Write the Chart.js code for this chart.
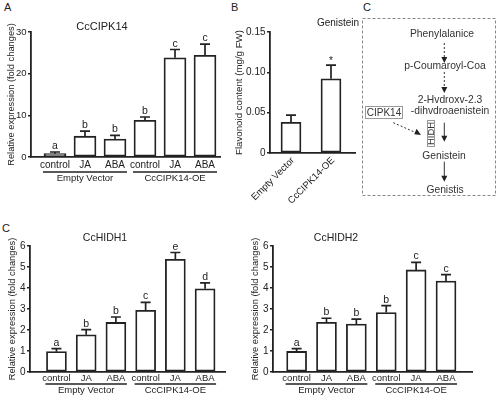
<!DOCTYPE html>
<html><head><meta charset="utf-8">
<script src="https://cdn.jsdelivr.net/npm/chart.js@4.4.0/dist/chart.umd.min.js"></script>
<style>
html,body{margin:0;padding:0;background:#fff;}
#wrap{position:relative;width:500px;height:397px;overflow:hidden;font-family:"Liberation Sans",Arial,sans-serif;color:#222;}
#wrap canvas{position:absolute;}
.pl{position:absolute;font-size:11px;color:#222;line-height:1;}
</style></head><body>
<div id="wrap">
<div class="pl" style="left:4px;top:2px">A</div>
<div class="pl" style="left:231px;top:2px">B</div>
<div class="pl" style="left:363px;top:2px">C</div>
<div class="pl" style="left:2px;top:223px">C</div>
<canvas id="cA" width="224" height="188" style="left:0;top:0"></canvas>
<canvas id="cB" width="132" height="210" style="left:228px;top:0"></canvas>
<canvas id="cC1" width="230" height="182" style="left:0;top:215px"></canvas>
<canvas id="cC2" width="255" height="182" style="left:245px;top:215px"></canvas>
<svg width="145" height="200" viewBox="355 0 145 200" style="position:absolute;left:355px;top:0" font-family="Liberation Sans, Arial, sans-serif">
  <rect x="362.5" y="18.5" width="133" height="177" fill="none" stroke="#888" stroke-width="1" stroke-dasharray="3 2"/>
  <g fill="#333" font-size="10.3" text-anchor="middle">
    <text x="442" y="37">Phenylalanice</text>
    <text x="445" y="69">p-Coumaroyl-Coa</text>
    <text x="450" y="102.5">2-Hvdroxv-2.3</text>
    <text x="450" y="114">-dihvdroaenistein</text>
    <text x="444" y="159">Genistein</text>
    <text x="445" y="193">Genistis</text>
  </g>
  <rect x="365.5" y="106.5" width="37" height="12" fill="#fff" stroke="#999" stroke-width="1"/>
  <text x="384" y="116" font-size="10" fill="#333" text-anchor="middle">CIPK14</text>
  <rect x="427.5" y="120.5" width="7" height="26" fill="#fff" stroke="#999" stroke-width="1"/>
  <text transform="translate(431,133.5) rotate(-90)" font-size="8.5" fill="#333" text-anchor="middle" dominant-baseline="central" textLength="23" lengthAdjust="spacingAndGlyphs">HIDH</text>
  <g stroke="#333" stroke-width="1" fill="none">
    <line x1="444.3" y1="43" x2="444.3" y2="57" stroke-dasharray="2 2"/>
    <line x1="444.3" y1="72" x2="444.3" y2="87" stroke-dasharray="2 2"/>
    <line x1="393.3" y1="122.7" x2="415.5" y2="132.5" stroke-dasharray="2 2"/>
    <line x1="444.3" y1="122.7" x2="444.3" y2="136"/>
    <line x1="444.3" y1="161.7" x2="444.3" y2="176"/>
  </g>
  <g fill="#222">
    <polygon points="441.3,57 447.3,57 444.3,63"/>
    <polygon points="441.3,87 447.3,87 444.3,93"/>
    <polygon points="421,135 414.2,134.3 416.6,128.8"/>
    <polygon points="441.3,135.7 447.3,135.7 444.3,141.7"/>
    <polygon points="441.3,175.7 447.3,175.7 444.3,181.7"/>
  </g>
</svg>
</div>
<script>
// ---------- data ----------
const treatments = ['control', 'JA', 'ABA', 'control', 'JA', 'ABA'];
const groupNames = ['Empty Vector', 'CcCIPK14-OE'];
const groupMembers = [[0, 2], [3, 5]];

const cipk14Mean = [0.8, 5.0, 4.3, 8.8, 23.8, 24.4];
const cipk14Sd   = [0.4, 1.2, 0.9, 0.8, 2.0, 2.7];
const cipk14Sig  = ['a', 'b', 'b', 'b', 'c', 'c'];
const cipk14Ticks = [0, 10, 20, 30];

const lines      = ['Empty Vector', 'CcCIPK14-OE'];
const genMean    = [0.038, 0.092];
const genSd      = [0.009, 0.017];
const genSig     = ['', '*'];
const genTicks   = [0, 0.05, 0.10, 0.15];

const hidh1Mean  = [0.97, 1.77, 2.36, 2.94, 5.37, 3.96];
const hidh1Sd    = [0.14, 0.25, 0.26, 0.38, 0.32, 0.28];
const hidh1Sig   = ['a', 'b', 'b', 'c', 'e', 'd'];

const hidh2Mean  = [0.98, 2.37, 2.28, 2.83, 4.86, 4.33];
const hidh2Sd    = [0.13, 0.19, 0.24, 0.33, 0.36, 0.31];
const hidh2Sig   = ['a', 'b', 'b', 'b', 'c', 'c'];
const hidhTicks  = [0, 1, 2, 3, 4, 5, 6];

// ---------- rendering ----------
Chart.defaults.font.family = '"Liberation Sans", Arial, sans-serif';
Chart.defaults.color = '#222';

const annot = {
  id: 'annot',
  afterDatasetsDraw(chart, args, o) {
    const ctx = chart.ctx, ys = chart.scales.y, meta = chart.getDatasetMeta(0);
    ctx.save();
    ctx.strokeStyle = '#222'; ctx.fillStyle = '#222'; ctx.lineWidth = 1.7;
    meta.data.forEach((el, i) => {
      const x = el.x, yt = el.y, ye = ys.getPixelForValue(o.mean[i] + o.sd[i]);
      ctx.beginPath();
      ctx.moveTo(x, yt); ctx.lineTo(x, ye);
      ctx.moveTo(x - o.cap, ye); ctx.lineTo(x + o.cap, ye);
      ctx.stroke();
      if (o.sig[i]) {
        ctx.font = o.sigFont + 'px "Liberation Sans", Arial';
        ctx.textAlign = 'center'; ctx.textBaseline = 'alphabetic';
        ctx.fillText(o.sig[i], x, ye - o.sigGap);
      }
    });
    ctx.restore();
  },
  afterDraw(chart, args, o) {
    const ctx = chart.ctx, xs = chart.scales.x, area = chart.chartArea;
    ctx.save();
    ctx.fillStyle = '#222';
    ctx.font = o.titleFont + 'px "Liberation Sans", Arial';
    ctx.textAlign = 'center'; ctx.textBaseline = 'middle';
    ctx.fillText(o.title, o.titleX, o.titleY);
    if (o.groups) {
      const half = o.barW / 2 + 1;
      ctx.strokeStyle = '#222'; ctx.lineWidth = 1.3;
      ctx.font = o.groupFont + 'px "Liberation Sans", Arial';
      o.groups.forEach((g, k) => {
        const x1 = xs.getPixelForValue(o.members[k][0]) - half;
        const x2 = xs.getPixelForValue(o.members[k][1]) + half;
        const y = area.bottom + o.lineDy;
        ctx.beginPath(); ctx.moveTo(x1, y); ctx.lineTo(x2, y); ctx.stroke();
        ctx.fillText(g, (x1 + x2) / 2, area.bottom + o.nameDy);
      });
    }
    ctx.restore();
  }
};

function makeChart(id, c) {
  const cv = document.getElementById(id);
  const W = cv.width, H = cv.height;
  return new Chart(cv, {
    type: 'bar',
    data: {
      datasets: [{
        data: c.mean.map((v, i) => ({ x: i, y: v })),
        backgroundColor: '#ffffff',
        borderColor: '#222',
        borderWidth: 1.8,
        borderSkipped: false,
        barThickness: c.barW
      }]
    },
    options: {
      responsive: false,
      animation: false,
      devicePixelRatio: 1,
      layout: { autoPadding: false, padding: { left: 0, top: c.area.t, right: W - c.area.r, bottom: 0 } },
      plugins: {
        legend: { display: false }, tooltip: { enabled: false }, title: { display: false },
        annot: {
          mean: c.mean, sd: c.sd, sig: c.sig, cap: c.cap, sigFont: c.sigFont, sigGap: c.sigGap,
          title: c.title, titleX: c.titleX, titleY: c.titleY, titleFont: c.titleFont,
          groups: c.groups, members: c.members, barW: c.barW, groupFont: c.groupFont,
          lineDy: c.lineDy, nameDy: c.nameDy
        }
      },
      scales: {
        x: {
          type: 'linear', offset: false, min: c.xMin, max: c.xMax,
          afterBuildTicks: s => { s.ticks = c.labels.map((_, i) => ({ value: i })); },
          afterFit: s => { s.height = H - c.area.b; },
          grid: { display: false, drawTicks: false, offset: false },
          border: { display: true, color: '#222', width: 1.8 },
          ticks: {
            autoSkip: false, padding: c.xPad, font: { size: c.catFont }, color: '#222',
            minRotation: c.rot, maxRotation: c.rot, labelOffset: c.labelOffset || 0,
            callback: (v, i) => c.labels[i]
          }
        },
        y: {
          min: c.yTicks[0], max: c.yTicks[c.yTicks.length - 1],
          afterBuildTicks: s => { s.ticks = c.yTicks.map(v => ({ value: v })); },
          afterFit: s => { s.width = c.area.l; },
          grid: { display: true, drawOnChartArea: false, drawTicks: true, tickLength: 3, color: '#222', lineWidth: 1.5 },
          border: { display: true, color: '#222', width: 1.8 },
          ticks: { padding: 1.5, font: { size: c.tickFont }, color: '#222', callback: c.fmt },
          title: { display: true, text: c.yTitle, font: { size: c.yTitleFont }, color: '#222', padding: { top: c.yTitlePad, bottom: 0 } }
        }
      }
    },
    plugins: [annot]
  });
}

const intFmt = v => String(v);

makeChart('cA', {
  labels: treatments, mean: cipk14Mean, sd: cipk14Sd, sig: cipk14Sig, yTicks: cipk14Ticks, fmt: intFmt,
  area: { l: 31, t: 32, r: 220, b: 157 }, xMin: -0.8, xMax: 5.5, barW: 22, cap: 5,
  sigFont: 10.5, sigGap: 3, title: 'CcCIPK14', titleX: 102, titleY: 27, titleFont: 11,
  groups: groupNames, members: groupMembers, groupFont: 9.5, lineDy: 15, nameDy: 21,
  catFont: 10, xPad: 2, rot: 0, tickFont: 9.5,
  yTitle: 'Relative expression (fold changes)', yTitleFont: 9.3, yTitlePad: 6
});

makeChart('cB', {
  labels: lines, mean: genMean, sd: genSd, sig: genSig, yTicks: genTicks,
  fmt: v => (v === 0 ? '0' : v.toFixed(2)),
  area: { l: 42, t: 32, r: 127, b: 153 }, xMin: -0.525, xMax: 1.6, barW: 20, cap: 5,
  sigFont: 10, sigGap: 1, title: 'Genistein', titleX: 110, titleY: 23, titleFont: 10,
  groups: null, members: null, groupFont: 9.5, lineDy: 0, nameDy: 0,
  catFont: 9.5, xPad: 2, rot: 45, labelOffset: 2, tickFont: 10,
  yTitle: 'Flavonoid content (mg/g FW)', yTitleFont: 9.7, yTitlePad: 6
});

makeChart('cC1', {
  labels: treatments, mean: hidh1Mean, sd: hidh1Sd, sig: hidh1Sig, yTicks: hidhTicks, fmt: intFmt,
  area: { l: 30, t: 31, r: 225, b: 157 }, xMin: -0.89, xMax: 5.67, barW: 20, cap: 5,
  sigFont: 10.5, sigGap: 3, title: 'CcHIDH1', titleX: 105, titleY: 23, titleFont: 10.5,
  groups: groupNames, members: groupMembers, groupFont: 9.5, lineDy: 12, nameDy: 18.5,
  catFont: 9.5, xPad: 1, rot: 0, tickFont: 10,
  yTitle: 'Relative expression (fold changes)', yTitleFont: 9.3, yTitlePad: 7
});

makeChart('cC2', {
  labels: treatments, mean: hidh2Mean, sd: hidh2Sd, sig: hidh2Sig, yTicks: hidhTicks, fmt: intFmt,
  area: { l: 28, t: 31, r: 227, b: 157 }, xMin: -0.79, xMax: 5.87, barW: 20, cap: 5,
  sigFont: 10.5, sigGap: 3, title: 'CcHIDH2', titleX: 91, titleY: 23, titleFont: 10.5,
  groups: groupNames, members: groupMembers, groupFont: 9.5, lineDy: 12, nameDy: 18.5,
  catFont: 9.5, xPad: 1, rot: 0, tickFont: 10,
  yTitle: 'Relative expression (fold changes)', yTitleFont: 9.3, yTitlePad: 4.5
});
</script>
</body></html>
